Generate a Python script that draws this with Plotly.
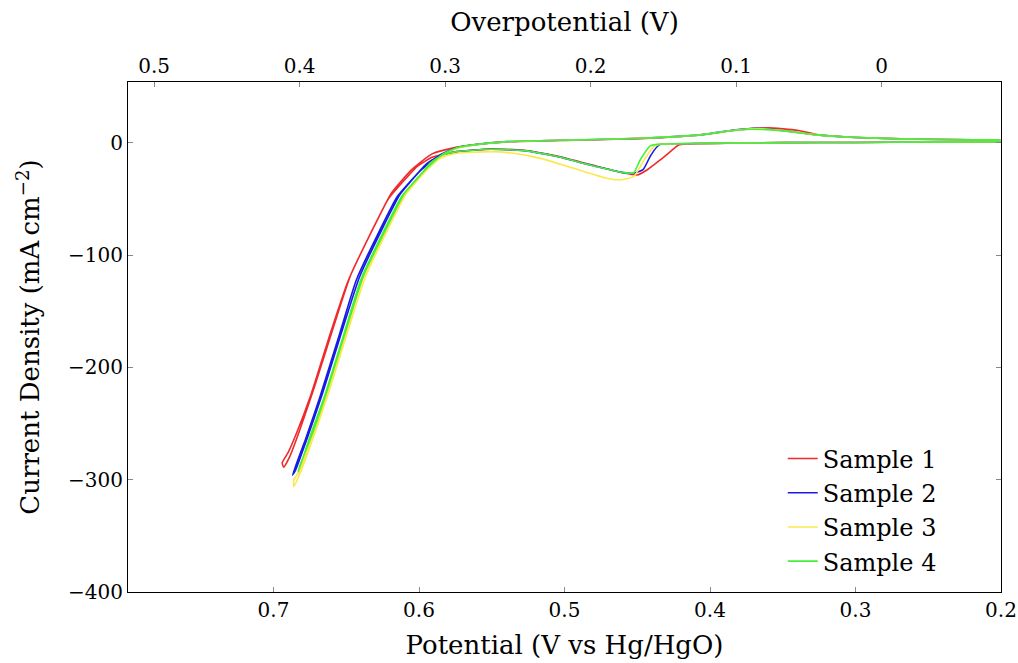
import plotly.graph_objects as go

# Potential (V vs Hg/HgO) and current density (mA cm^-2)
s1_x = [0.200, 0.250, 0.300, 0.350, 0.390, 0.410, 0.416, 0.4216, 0.4273, 0.4342, 0.4433, 0.4502, 0.4594,
        0.4823, 0.5051, 0.5281, 0.551, 0.5739, 0.591,
        0.601, 0.607, 0.621, 0.633, 0.649, 0.661, 0.6747, 0.684, 0.690, 0.694, 0.693,
        0.689, 0.682, 0.672, 0.659, 0.647, 0.631, 0.619, 0.605, 0.591, 0.5739,
        0.5625, 0.5395, 0.4937, 0.448, 0.420, 0.400, 0.380, 0.360, 0.340, 0.3265, 0.3036, 0.2577, 0.2005]
s1_y = [0.8, 0.5, 0.2, 0.0, -0.4, -0.9, -1.2, -2.0, -8.0, -15.4, -24.3, -28.8, -27.0,
        -19.5, -12.0, -6.8, -5.6, -8.0, -13.0,
        -21.0, -29.0, -50.0, -80.0, -124.0, -170.0, -226.0, -258.0, -276.0, -285.0, -289.0,
        -280.0, -256.0, -218.0, -165.0, -118.0, -75.0, -45.0, -24.0, -10.0, -4.0,
        -1.8, 0.7, 2.2, 3.5, 5.5, 8.0, 11.5, 13.2, 11.0, 7.2, 4.8, 3.0, 2.4]

s2_x = [0.200, 0.250, 0.300, 0.350, 0.400, 0.425, 0.434, 0.4364, 0.441, 0.446, 0.4525, 0.4594,
        0.4823, 0.5051, 0.5281, 0.551, 0.5739, 0.585,
        0.595, 0.601, 0.615, 0.627, 0.643, 0.655, 0.668, 0.678, 0.687,
        0.685, 0.676, 0.666, 0.653, 0.641, 0.625, 0.613, 0.599, 0.585, 0.5739,
        0.5625, 0.5395, 0.4937, 0.448, 0.4067, 0.3838, 0.3677, 0.3494, 0.3265, 0.3036, 0.2577, 0.2005]
s2_y = [0.8, 0.5, 0.2, 0.0, -0.6, -1.0, -1.5, -3.6, -12.0, -24.0, -27.3, -26.7,
        -19.9, -12.4, -7.1, -5.9, -8.0, -11.0,
        -19.0, -27.3, -48.0, -78.0, -122.0, -172.0, -226.0, -264.0, -296.0,
        -292.0, -260.0, -222.0, -168.0, -120.0, -76.0, -46.0, -25.0, -10.5, -4.5,
        -2.0, 0.9, 2.4, 3.9, 6.9, 11.3, 12.8, 10.7, 6.9, 4.8, 3.0, 2.4]

s3_x = [0.200, 0.250, 0.300, 0.350, 0.400, 0.425, 0.435, 0.4388, 0.4456, 0.4525, 0.4617, 0.4708,
        0.4937, 0.5166, 0.535, 0.551, 0.5739, 0.583,
        0.593, 0.598, 0.611, 0.623, 0.639, 0.651, 0.664, 0.674, 0.683, 0.686, 0.686,
        0.681, 0.672, 0.662, 0.649, 0.637, 0.621, 0.609, 0.595, 0.583, 0.5739,
        0.5625, 0.5395, 0.4937, 0.448, 0.4067, 0.3838, 0.3677, 0.3494, 0.3265, 0.3036, 0.2577, 0.2005]
s3_y = [0.8, 0.5, 0.2, 0.0, -0.6, -1.0, -1.5, -3.5, -16.0, -30.3, -33.2, -31.7,
        -22.8, -14.0, -9.5, -8.0, -9.5, -12.5,
        -20.0, -27.3, -48.0, -78.0, -122.0, -172.0, -226.0, -264.0, -294.0, -300.0, -306.0,
        -292.0, -260.0, -222.0, -168.0, -120.0, -76.0, -46.0, -25.0, -11.0, -5.0,
        -2.2, 0.8, 2.4, 3.9, 6.9, 11.0, 12.5, 10.7, 6.9, 4.8, 3.0, 2.4]

s4_x = [0.200, 0.250, 0.300, 0.350, 0.400, 0.425, 0.4364, 0.441, 0.448, 0.4525, 0.4594,
        0.4823, 0.5051, 0.5281, 0.551, 0.5739, 0.584,
        0.593, 0.598, 0.612, 0.624, 0.640, 0.652, 0.665, 0.675, 0.683,
        0.682, 0.673, 0.663, 0.650, 0.638, 0.622, 0.610, 0.596, 0.584, 0.5739,
        0.5625, 0.5395, 0.4937, 0.448, 0.4067, 0.3838, 0.370, 0.3494, 0.3265, 0.3036, 0.2577, 0.2005]
s4_y = [0.8, 0.5, 0.2, 0.0, -0.6, -1.0, -1.5, -2.9, -15.4, -27.0, -26.7,
        -19.9, -12.4, -7.1, -5.9, -8.0, -11.0,
        -19.0, -27.3, -48.0, -78.0, -122.0, -172.0, -226.0, -262.0, -293.0,
        -288.0, -258.0, -220.0, -166.0, -118.0, -75.0, -45.0, -24.5, -10.5, -4.5,
        -2.0, 0.9, 2.4, 3.9, 6.9, 10.8, 12.0, 10.5, 6.9, 4.8, 3.0, 2.4]

names = ["Sample 1", "Sample 2", "Sample 3", "Sample 4"]
colors = ["#f02a2a", "#1a1ae6", "#fbe84a", "#45f03c"]
xs = [s1_x, s2_x, s3_x, s4_x]
ys = [s1_y, s2_y, s3_y, s4_y]

overpotential_offset = 0.282  # overpotential = potential - offset
x_range = [0.8, 0.2]
y_range = [-400, 54]
x_ticks = [0.7, 0.6, 0.5, 0.4, 0.3, 0.2]
top_ticks = [0.5, 0.4, 0.3, 0.2, 0.1, 0.0]
top_tick_text = ["0.5", "0.4", "0.3", "0.2", "0.1", "0"]
y_ticks = [0, -100, -200, -300, -400]
y_tick_text = ["0", "\u2212100", "\u2212200", "\u2212300", "\u2212400"]

FONT = "DejaVu Serif"

fig = go.Figure()
for x, y, n, c in zip(xs, ys, names, colors):
    fig.add_trace(go.Scatter(x=x, y=y, mode="lines", name=n,
                             line=dict(color=c, width=1.6, shape="spline", smoothing=0.5)))

# helper trace to activate the overpotential (top) axis
fig.add_trace(go.Scatter(x=[v - overpotential_offset for v in s1_x], y=s1_y, xaxis="x2",
                         mode="lines", line=dict(width=0), opacity=0,
                         showlegend=False, hoverinfo="skip"))

axis_common = dict(showgrid=False, zeroline=False, showline=True, linecolor="black",
                   linewidth=1, ticks="inside", ticklen=5, tickcolor="#888888",
                   automargin=False,
                   tickfont=dict(family=FONT, size=20, color="black"))

fig.update_layout(
    width=1018, height=663,
    margin=dict(l=128, r=17, t=82, b=71),
    paper_bgcolor="white", plot_bgcolor="white",
    font=dict(family=FONT, size=20, color="black"),
    xaxis=dict(range=x_range, tickvals=x_ticks, ticktext=[str(v) for v in x_ticks],
               mirror=True,
               title=dict(text="Potential (V vs Hg/HgO)", font=dict(family=FONT, size=26), standoff=14),
               **axis_common),
    xaxis2=dict(range=[x_range[0] - overpotential_offset, x_range[1] - overpotential_offset],
                overlaying="x", side="top", tickvals=top_ticks, ticktext=top_tick_text,
                title=dict(text="Overpotential (V)", font=dict(family=FONT, size=26), standoff=14),
                **axis_common),
    yaxis=dict(range=y_range, tickvals=y_ticks, ticktext=y_tick_text, mirror="ticks",
               title=dict(text="Current Density (mA\u2009cm<sup>\u22122</sup>)",
                          font=dict(family=FONT, size=26), standoff=20),
               **axis_common),
    legend=dict(x=0.75, y=0.305, xanchor="left", yanchor="top",
                bgcolor="rgba(0,0,0,0)", borderwidth=0,
                font=dict(family=FONT, size=24), tracegroupgap=0),
    showlegend=True,
)

fig.write_html("out.html", config={"displayModeBar": False},
               post_script="document.body.style.margin='0';document.body.style.overflow='hidden';")
